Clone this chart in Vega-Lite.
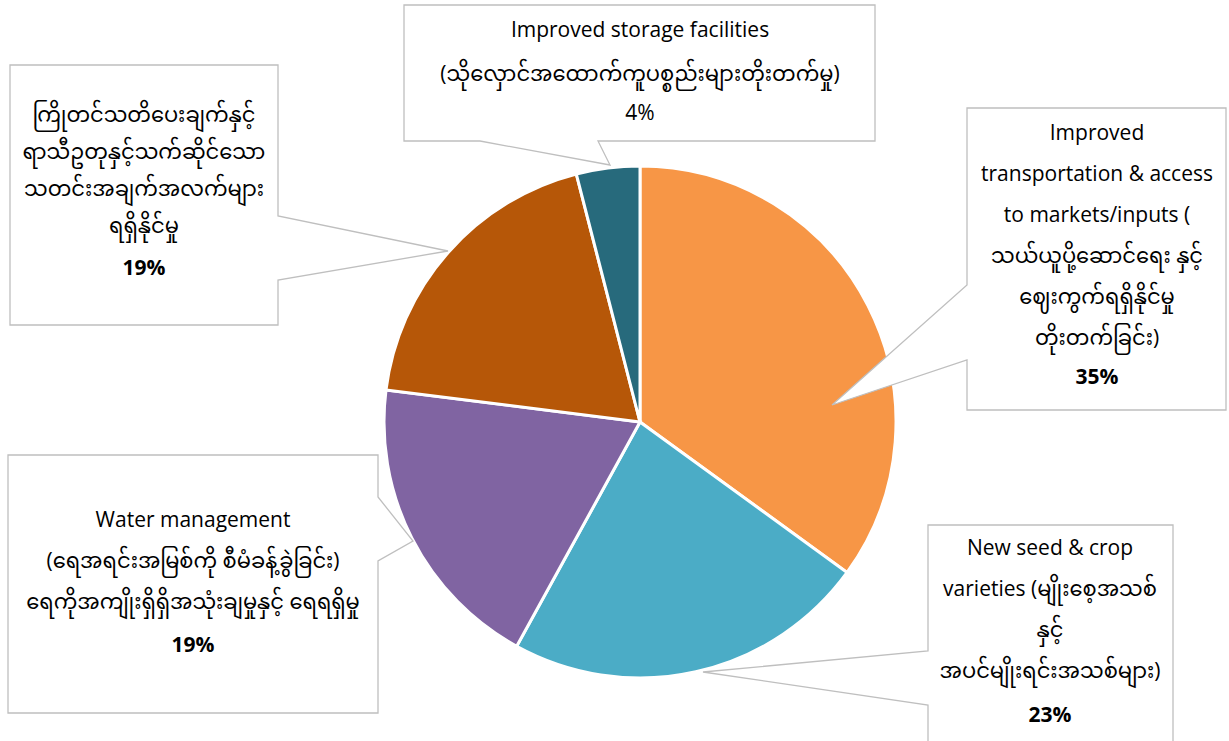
{
  "$schema": "https://vega.github.io/schema/vega-lite/v6.json",
  "width": 1178,
  "height": 638,
  "autosize": {"type": "none"},
  "padding": {"left": 51, "top": 103, "right": 0, "bottom": 0},
  "background": "white",
  "config": {"view": {"stroke": null}, "font": "'Open Sans', 'Noto Sans Myanmar', Padauk, sans-serif"},
  "data": {
    "values": [
      {"order": 1, "category": "Improved transportation & access to markets/inputs", "value": 0.35,
       "lines": ["Improved", "transportation & access", "to markets/inputs (", "သယ်ယူပို့ဆောင်ရေး နှင့်", "ဈေးကွက်ရရှိနိုင်မှု", "တိုးတက်ခြင်း)"]},
      {"order": 2, "category": "New seed & crop varieties", "value": 0.23,
       "lines": ["New seed & crop", "varieties (မျိုးစေ့အသစ်", "နှင့်", "အပင်မျိုးရင်းအသစ်များ)"]},
      {"order": 3, "category": "Water management", "value": 0.19,
       "lines": ["Water management", "(ရေအရင်းအမြစ်ကို စီမံခန့်ခွဲခြင်း)", "ရေကိုအကျိုးရှိရှိအသုံးချမှုနှင့် ရေရရှိမှု"]},
      {"order": 4, "category": "ကြိုတင်သတိပေးချက်နှင့် ရာသီဥတုနှင့်သက်ဆိုင်သော သတင်းအချက်အလက်များ ရရှိနိုင်မှု", "value": 0.19,
       "lines": ["ကြိုတင်သတိပေးချက်နှင့်", "ရာသီဥတုနှင့်သက်ဆိုင်သော", "သတင်းအချက်အလက်များ", "ရရှိနိုင်မှု"]},
      {"order": 5, "category": "Improved storage facilities", "value": 0.04,
       "lines": ["Improved storage facilities", "(သိုလှောင်အထောက်ကူပစ္စည်းများတိုးတက်မှု)"]}
    ]
  },
  "resolve": {"scale": {"y": "independent"}},
  "layer": [
    {
      "mark": {"type": "arc", "outerRadius": 256, "stroke": "white", "strokeWidth": 3},
      "encoding": {
        "theta": {"field": "value", "type": "quantitative", "stack": true},
        "order": {"field": "order", "type": "quantitative", "sort": "ascending"},
        "color": {
          "field": "order", "type": "nominal",
          "scale": {"domain": [1, 2, 3, 4, 5], "range": ["#F79646", "#4BACC6", "#8064A2", "#B65708", "#276A7C"]},
          "legend": null
        }
      }
    },
    {
      "mark": {"type": "point", "filled": true, "fill": "white", "stroke": "#BFBFBF", "strokeWidth": 1.3, "opacity": 1, "size": 4},
      "encoding": {
        "x": {"field": "order", "type": "quantitative", "scale": {"domain": [1, 2, 3, 4, 5], "range": [1046, 999, 142, 93, 589], "zero": false, "nice": false}, "axis": null},
        "y": {"field": "order", "type": "quantitative", "scale": {"domain": [1, 2, 3, 4, 5], "range": [156, 537, 481, 92, -30], "zero": false, "nice": false}, "axis": null},
        "shape": {
          "field": "order", "type": "nominal", "legend": null,
          "scale": {"domain": [1, 2, 3, 4, 5], "range": [
            "M-130,-151H129V151H-130V101L-265,146L-130,26Z",
            "M-122,-115H123V120H-122V65L-347,32L-122,11Z",
            "M-185,-129H185V-87L220,-43L185,-23V129H-185Z",
            "M-134,-130H134V21L304,56L134,85V130H-134Z",
            "M-236,-68H235V68H-42L-30,92L-160,68H-236Z"
          ]}
        }
      }
    },
    {
      "transform": [{"filter": "datum.order <= 3"}],
      "mark": {"type": "text", "fontSize": 21, "lineHeight": 41, "baseline": "top", "align": "center", "color": "#000000"},
      "encoding": {
        "x": {"field": "order", "type": "quantitative", "scale": {"domain": [1, 2, 3, 4, 5], "range": [1046, 999, 142, 93, 589], "zero": false, "nice": false}, "axis": null},
        "y": {"field": "order", "type": "quantitative", "scale": {"domain": [1, 2, 3, 4, 5], "range": [20, 435, 407, 2, -83], "zero": false, "nice": false}, "axis": null},
        "text": {"field": "lines"}
      }
    },
    {
      "transform": [{"filter": "datum.order == 4"}],
      "mark": {"type": "text", "fontSize": 21, "lineHeight": 37, "baseline": "top", "align": "center", "color": "#000000"},
      "encoding": {
        "x": {"field": "order", "type": "quantitative", "scale": {"domain": [1, 2, 3, 4, 5], "range": [1046, 999, 142, 93, 589], "zero": false, "nice": false}, "axis": null},
        "y": {"field": "order", "type": "quantitative", "scale": {"domain": [1, 2, 3, 4, 5], "range": [20, 435, 407, 2, -83], "zero": false, "nice": false}, "axis": null},
        "text": {"field": "lines"}
      }
    },
    {
      "transform": [{"filter": "datum.order == 5"}],
      "mark": {"type": "text", "fontSize": 21, "lineHeight": 44, "baseline": "top", "align": "center", "color": "#000000"},
      "encoding": {
        "x": {"field": "order", "type": "quantitative", "scale": {"domain": [1, 2, 3, 4, 5], "range": [1046, 999, 142, 93, 589], "zero": false, "nice": false}, "axis": null},
        "y": {"field": "order", "type": "quantitative", "scale": {"domain": [1, 2, 3, 4, 5], "range": [20, 435, 407, 2, -83], "zero": false, "nice": false}, "axis": null},
        "text": {"field": "lines"}
      }
    },
    {
      "transform": [{"filter": "datum.order != 5"}],
      "mark": {"type": "text", "fontSize": 21, "fontWeight": "bold", "baseline": "middle", "align": "center", "color": "#000000"},
      "encoding": {
        "x": {"field": "order", "type": "quantitative", "scale": {"domain": [1, 2, 3, 4, 5], "range": [1046, 999, 142, 93, 589], "zero": false, "nice": false}, "axis": null},
        "y": {"field": "order", "type": "quantitative", "scale": {"domain": [1, 2, 3, 4, 5], "range": [275, 613, 543, 166, 11], "zero": false, "nice": false}, "axis": null},
        "text": {"field": "value", "type": "quantitative", "format": ".0%"}
      }
    },
    {
      "transform": [{"filter": "datum.order == 5"}],
      "mark": {"type": "text", "fontSize": 21, "baseline": "middle", "align": "center", "color": "#000000"},
      "encoding": {
        "x": {"field": "order", "type": "quantitative", "scale": {"domain": [1, 2, 3, 4, 5], "range": [1046, 999, 142, 93, 589], "zero": false, "nice": false}, "axis": null},
        "y": {"field": "order", "type": "quantitative", "scale": {"domain": [1, 2, 3, 4, 5], "range": [275, 613, 543, 166, 11], "zero": false, "nice": false}, "axis": null},
        "text": {"field": "value", "type": "quantitative", "format": ".0%"}
      }
    }
  ]
}
